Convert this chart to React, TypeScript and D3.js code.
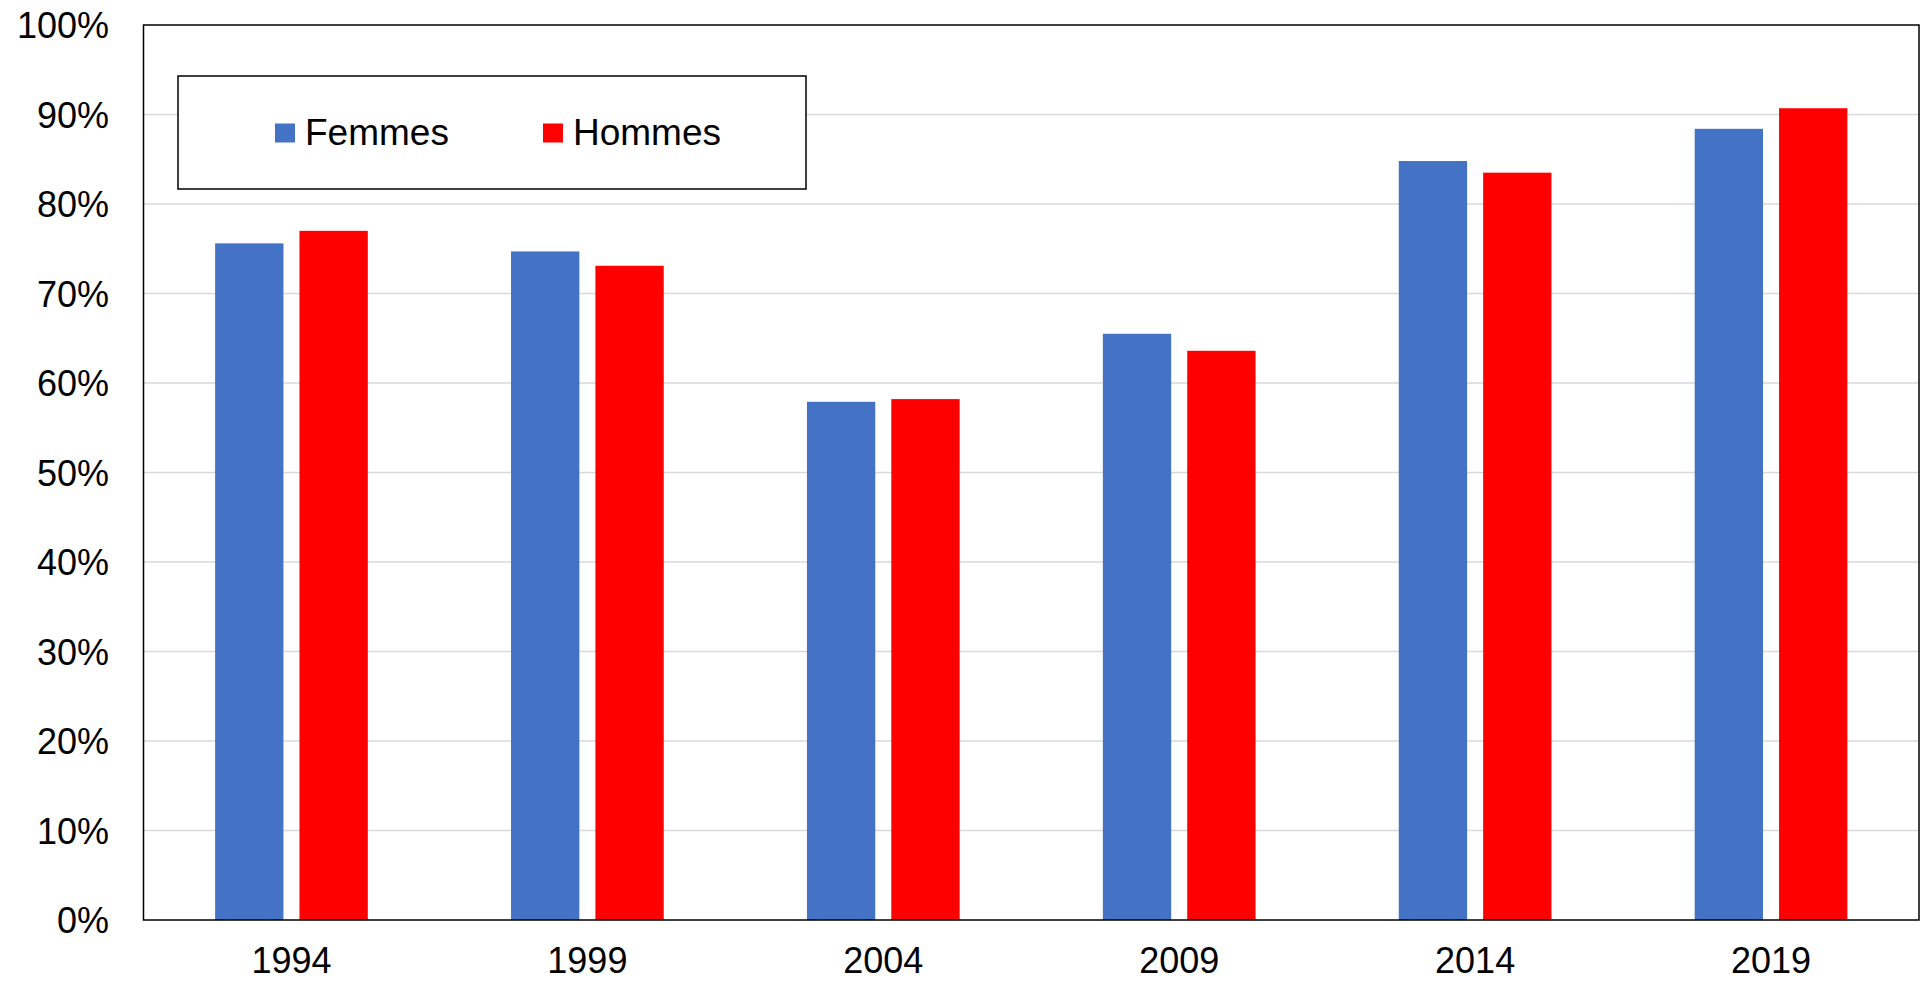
import React from 'react';
import * as d3 from 'd3';

const years = ['1994', '1999', '2004', '2009', '2014', '2019'];
const seriesNames = ['Femmes', 'Hommes'];
const femmes = [75.6, 74.7, 57.9, 65.5, 84.8, 88.4];
const hommes = [77.0, 73.1, 58.2, 63.6, 83.5, 90.7];
const yTicks = [0, 10, 20, 30, 40, 50, 60, 70, 80, 90, 100];
const colors = ['#4472C4', '#FF0000'];

const W = 1921;
const H = 981;
const left = 143.5;
const right = 1919;
const top = 25;
const bottom = 920;

const App: React.FC = () => {
  const x = d3.scaleBand<string>()
    .domain(years)
    .range([left, right])
    .paddingInner(0.484)
    .paddingOuter(0.242);

  const xs = d3.scaleBand<string>()
    .domain(seriesNames)
    .range([0, x.bandwidth()])
    .paddingInner(0.19);

  const y = d3.scaleLinear().domain([0, 100]).range([bottom, top]);

  const values = [femmes, hommes];
  const font = "'Liberation Sans', Arial, sans-serif";

  // legend item positions
  const legendX = [275, 543];

  return (
    <svg width={W} height={H} style={{ position: 'absolute', left: 0, top: 0 }} fontFamily={font}>
      <rect x={0} y={0} width={W} height={H} fill="#fff" />

      {/* grid */}
      {yTicks.filter(t => t > 0 && t < 100).map(t => (
        <line key={t} x1={left} x2={right} y1={y(t)} y2={y(t)} stroke="#d9d9d9" strokeWidth={1.5} />
      ))}

      {/* bars */}
      {seriesNames.map((s, si) => (
        <g key={s}>
          {years.map((yr, i) => (
            <rect
              key={yr}
              x={(x(yr) ?? 0) + (xs(s) ?? 0)}
              y={y(values[si][i])}
              width={xs.bandwidth()}
              height={bottom - y(values[si][i])}
              fill={colors[si]}
            />
          ))}
        </g>
      ))}

      {/* frame */}
      <rect x={left} y={top} width={right - left} height={bottom - top} fill="none" stroke="#000" strokeWidth={1.5} />

      {/* y labels */}
      {yTicks.map(t => (
        <text key={t} x={109} y={y(t) + 13} textAnchor="end" fontSize={36} fill="#000">{t}%</text>
      ))}

      {/* x labels */}
      {years.map(yr => (
        <text key={yr} x={(x(yr) ?? 0) + x.bandwidth() / 2} y={973} textAnchor="middle" fontSize={36} fill="#000">{yr}</text>
      ))}

      {/* legend */}
      <rect x={178} y={76} width={628} height={113} fill="#fff" stroke="#000" strokeWidth={1.5} />
      {seriesNames.map((s, si) => (
        <g key={s}>
          <rect x={legendX[si]} y={123.5} width={20} height={19} fill={colors[si]} />
          <text x={legendX[si] + 30} y={145} fontSize={37} fill="#000">{s}</text>
        </g>
      ))}
    </svg>
  );
};

export default App;
